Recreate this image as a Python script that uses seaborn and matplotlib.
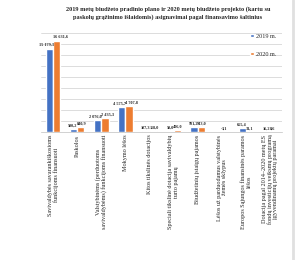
import pandas as pd
import numpy as np
import matplotlib
matplotlib.use('Agg')
import matplotlib.pyplot as plt
import seaborn as sns

# chart data
categories = [
    'Savivaldybės savarankiškosioms\nfunkcijoms finansuoti',
    'Paskolos',
    'Valstybinėms (perduotoms\nsavivaldybėms) funkcijoms finansuoti',
    'Mokymo lėšos',
    'Kitos tikslinės dotacijos',
    'Speciali tikslinė dotacija savivaldybių\nturto pajamų',
    'Biudžetinių įstaigų pajamos',
    'Lėšos už parduodamus valstybinės\nžemės sklypus',
    'Europos Sąjungos finansinės paramos\nlėšos',
    'Dotacija pagal 2014–2020 metų ES\nfondų investicijų veiksmų programą\nįgyvendinamų projektų paramai',
]
vals_2019 = [15179.3, 500.2, 2076.0, 4575.7, 107.3, 50.0, 901.2, 0.0, 655.4, 16.2]
vals_2020 = [16631.6, 840.9, 2435.3, 4707.8, 118.0, 406.0, 943.0, 3.1, 31.1, 8.6]
labels_2019 = ['15 179,3', '500,2', '2 076,0', '4 575,7', '107,3', '50,0', '901,2', '-', '655,4', '16,2']
labels_2020 = ['16 631,6', '840,9', '2 435,3', '4 707,8', '118,0', '406,0', '943,0', '3,1', '31,1', '8,6']
series = ['2019 m.', '2020 m.']

df = pd.DataFrame({
    'kat': categories * 2,
    'metai': [series[0]] * len(categories) + [series[1]] * len(categories),
    'suma': vals_2019 + vals_2020,
})

sns.set_style('white')
plt.rcParams['font.family'] = ['Liberation Serif', 'DejaVu Serif']

fig = plt.figure(figsize=(3.0, 2.6), dpi=100)
ax = fig.add_axes([0.137, 0.493, 0.803, 0.38])

sns.barplot(data=df, x='kat', y='suma', hue='metai',
            palette=['#4472C4', '#ED7D31'], width=0.6, gap=0,
            saturation=1, ax=ax)

# value labels: 2019 leaning left, 2020 leaning right, like the original
for cont, labs, side in zip(ax.containers, [labels_2019, labels_2020], ['right', 'left']):
    for bar, lab in zip(cont, labs):
        x = bar.get_x() + (bar.get_width() * 1.05 if side == 'right' else -bar.get_width() * 0.05)
        ax.text(x, bar.get_height() + 250, lab, ha=side, va='bottom',
                fontsize=3.1, fontweight='bold', color='#262626')

ax.set_ylim(0, 18000)
ax.set_yticks(np.arange(0, 18001, 2000))
ax.set_yticklabels([])
ax.tick_params(axis='y', length=0)
ax.yaxis.grid(True, color='#cfcfcf', linewidth=0.5)
ax.set_axisbelow(True)
for s in ['top', 'right', 'left']:
    ax.spines[s].set_visible(False)
ax.spines['bottom'].set_color('#bfbfbf')
ax.spines['bottom'].set_linewidth(0.5)

ax.set_xlabel('')
ax.set_ylabel('')
ax.set_xticks(range(len(categories)))
ax.set_xticklabels(categories, rotation=90, fontsize=4.4, va='top', ha='center',
                   multialignment='center', linespacing=1.1)
ax.tick_params(axis='x', length=0, pad=2)
# small separators between categories
ax.set_xticks(np.arange(-0.5, len(categories), 1), minor=True)
ax.tick_params(axis='x', which='minor', length=3, color='#bfbfbf', width=0.5)
ax.set_xlim(-0.5, len(categories) - 0.5)

leg = ax.legend(loc='upper right', bbox_to_anchor=(1.0, 1.05), frameon=False,
                fontsize=4.4, handlelength=0.6, handleheight=0.6,
                labelspacing=2.1, handletextpad=0.4)

fig.text(0.56, 0.975, '2019 metų biudžeto pradinio plano ir 2020 metų biudžeto projekto (kartu su\n'
         'paskolų grąžinimo išlaidomis) asignavimai pagal finansavimo šaltinius',
         ha='center', va='top', fontsize=4.5, fontweight='bold', linespacing=1.45)

# page edge on the right
fig.add_artist(plt.Line2D([0.978, 0.978], [0, 1], color='#e0e0e0', linewidth=2))

fig.savefig('out.png', dpi=100)
